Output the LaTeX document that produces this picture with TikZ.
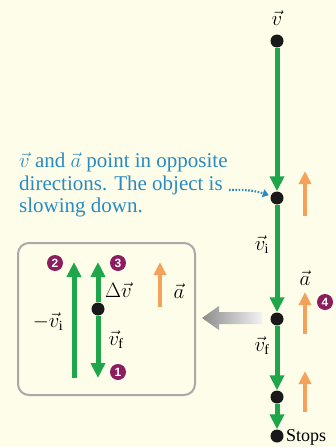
\documentclass[tikz,border=0pt]{standalone}
\usepackage{fontspec}
\setmainfont{Liberation Serif}
\setsansfont{Liberation Sans}
\usetikzlibrary{arrows.meta}
\definecolor{bgc}{HTML}{FEFDE9}
\definecolor{gr}{HTML}{1FA64A}
\definecolor{org}{HTML}{F4A259}
\definecolor{purp}{HTML}{8C1D5E}
\definecolor{bluet}{HTML}{2A8BC0}
\definecolor{boxg}{HTML}{A9A9A9}
\begin{document}
\begin{tikzpicture}[x=1pt,y=-1pt,
  gline/.style={draw=gr,line width=5pt,-{Triangle[width=14pt,length=15pt]}},
  oarrow/.style={draw=org,line width=4.5pt,-{Triangle[width=12pt,length=13pt]}},
  dotn/.style={circle,fill=black!90,inner sep=0pt,minimum size=13pt},
  numc/.style={circle,fill=purp,text=white,inner sep=0pt,minimum size=16pt,font=\sffamily\bfseries\fontsize{12}{12}\selectfont},
  vlab/.style={font=\fontsize{20}{20}\selectfont,inner sep=0pt}]
\fill[bgc] (0,0) rectangle (336,447);
\useasboundingbox (0,0) rectangle (336,447);
% main column
\node[dotn] (top) at (277,41) {};
\node[vlab] (vlab) at (277,18) {$\vec v$};
\node[dotn] (A) at (277,198) {};
\node[dotn] (B) at (277,319) {};
\node[dotn] (C) at (277,397) {};
\node[dotn] (D) at (277,436) {};
\draw[gline] (top) -- (A);
\draw[gline] (A) -- (B);
\draw[gline] (B) -- (C);
\draw[gline] (C) -- (D);
\node[anchor=west,inner sep=0pt,font=\fontsize{18}{18}\selectfont] (stops) at (286,437) {Stops};
\node[vlab] (vi) at (262,245) {$\vec v_{\mathrm i}$};
\node[vlab] (vf) at (262,346) {$\vec v_{\mathrm f}$};
% orange arrows
\coordinate (o1a) at (305,216); \coordinate (o1b) at (305,171);
\coordinate (o2a) at (305,334); \coordinate (o2b) at (305,292);
\coordinate (o3a) at (305,412); \coordinate (o3b) at (305,371);
\draw[oarrow] (o1a) -- (o1b);
\draw[oarrow] (o2a) -- (o2b);
\draw[oarrow] (o3a) -- (o3b);
\node[vlab] (alab) at (305,278) {$\vec a$};
\node[numc] (n4) at (325,302) {4};
% text
\node[anchor=north west,inner sep=0pt,align=left,text=bluet,font=\fontsize{21}{22.5}\selectfont] (txt) at (19,153)
 {$\vec v$ and $\vec a$ point in opposite\\directions. The object is\\slowing down.};
\coordinate (ds) at (229,190);
\draw[bluet,line width=2.2pt,dash pattern=on 1.6pt off 1.6pt,-{Triangle[width=8pt,length=6pt]},shorten >=2pt] (ds) to[bend left=10] (A);
% gray arrow
\shade[left color=black!45,right color=black!5] (202,318) -- (219,306) -- (219,312) -- (262,312) -- (262,324) -- (219,324) -- (219,330) -- cycle;
% box
\draw[boxg,line width=2pt,rounded corners=11pt] (18,243) rectangle (195,395);
\coordinate (m1) at (74,378); \coordinate (m2) at (74,262);
\draw[gline] (m1) -- (m2);
\node[dotn] (E) at (98,309) {};
\coordinate (eu) at (98,262); \coordinate (ed) at (98,378);
\draw[gline] (E) -- (eu);
\draw[gline] (E) -- (ed);
\node[numc] (n2) at (55,263) {2};
\node[numc] (n3) at (118,263) {3};
\node[numc] (n1) at (118,372) {1};
\node[vlab,anchor=west] (dv) at (105,290) {$\Delta\vec v$};
\node[vlab] (vf2) at (116,340) {$\vec v_{\mathrm f}$};
\node[vlab] (mvi) at (48,322) {$-\vec v_{\mathrm i}$};
\coordinate (o4a) at (160,307); \coordinate (o4b) at (160,262);
\draw[oarrow] (o4a) -- (o4b);
\node[vlab] (alab2) at (179,291) {$\vec a$};
\end{tikzpicture}
\end{document}
